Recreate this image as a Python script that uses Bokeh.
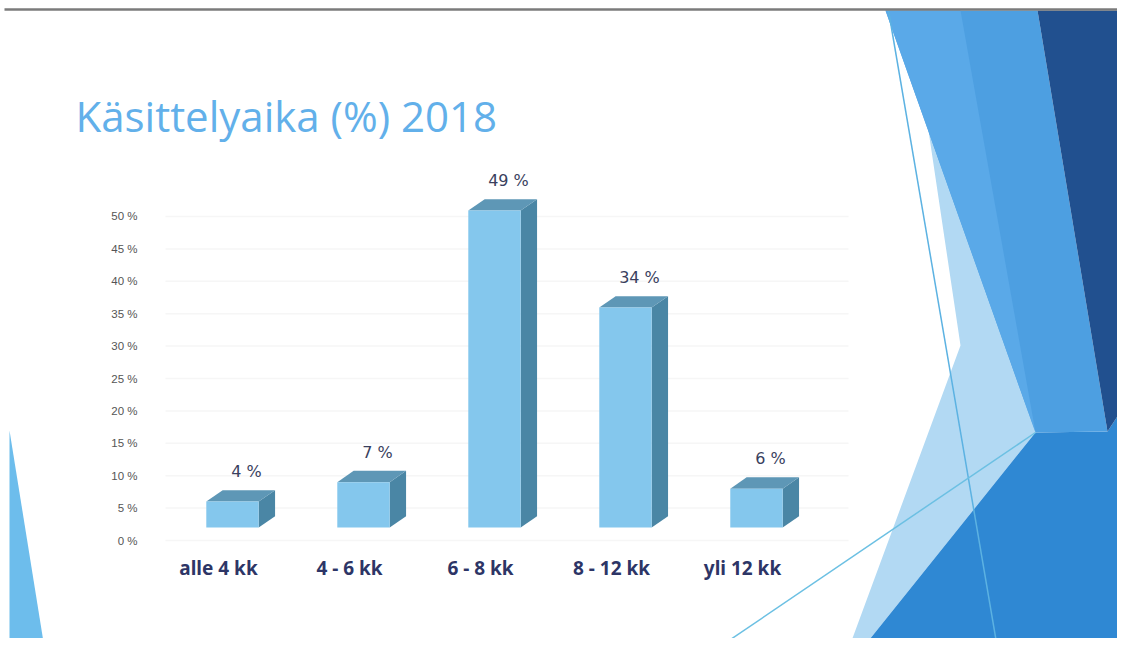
import numpy as np
from bokeh.plotting import figure
from bokeh.models import Range1d, ColumnDataSource
from bokeh.core.properties import value
from bokeh.embed import file_html
from bokeh.resources import INLINE

# ---------------- data ----------------
categories = ["alle 4 kk", "4 - 6 kk", "6 - 8 kk", "8 - 12 kk", "yli 12 kk"]
values = [4, 7, 49, 34, 6]
value_labels = ["4 %", "7 %", "49 %", "34 %", "6 %"]
y_ticks = [0, 5, 10, 15, 20, 25, 30, 35, 40, 45, 50]
y_tick_labels = ["0 %", "5 %", "10 %", "15 %", "20 %", "25 %", "30 %", "35 %", "40 %", "45 %", "50 %"]
title_text = "Käsittelyaika (%) 2018"

# ---------------- styling / geometry ----------------
W, H = 1117, 638
BAR_W = 0.40          # bar width in category units
DX, DY = 0.125, 1.75  # 3D depth offset (x units, % units)
FRONT, SIDE, TOP = "#84c7ed", "#4a86a5", "#5e97b6"

p = figure(width=W, height=H, output_backend="svg", toolbar_location=None,
           x_axis_location=None, y_axis_location=None,
           x_range=Range1d(-1.771, 6.756), y_range=Range1d(-17.16, 81.45),
           min_border=0, min_border_left=0, min_border_right=0,
           min_border_top=0, min_border_bottom=0,
           background_fill_color="white", border_fill_color="white")
p.outline_line_color = None
p.grid.visible = False
# decoration (slide) coordinates and the chart's back-wall value scale
p.extra_x_ranges = {"px": Range1d(0, W)}
p.extra_y_ranges = {"py": Range1d(H, 0), "wall": Range1d(-15.12, 83.33)}

# ---------------- slide decoration ----------------
deco = [
    ([9, 9, 45], [430, 654, 654], "#6dbdec"),                                   # left small triangle
    ([925, 1035, 857, 846, 960], [110, 432, 654, 654, 345], "#b2d9f3"),         # light wedge
    ([1035, 1107, 1133, 1133, 857], [432, 431, 391, 654, 654], "#2f88d3"),      # lower blue
    ([885, 1037, 1107, 1035], [10, 10, 431, 432], "#4d9fe1"),                   # upper band
    ([885, 960, 1035], [10, 10, 432], "#5aa9e8"),                               # lighter strip
    ([1037, 1133, 1133, 1107], [10, 10, 391, 431], "#21508f"),                  # navy
]
for xs, ys, c in deco:
    p.patch(xs, ys, fill_color=c, line_color=None, x_range_name="px", y_range_name="py")

# thin accent lines
p.line([888, 998], [10, 654], line_color="#5cb2e2", line_width=1.5, x_range_name="px", y_range_name="py")
p.line([705, 1035], [656, 432], line_color="#6cc0e3", line_width=1.5, x_range_name="px", y_range_name="py")
# top gray rule
p.line([4, 1133], [9, 9], line_color="#7b7b7b", line_width=2.5, x_range_name="px", y_range_name="py")

# title
p.text(x=[75], y=[115], text=[title_text], x_range_name="px", y_range_name="py",
       text_font=value("Open Sans"), text_font_size="42px", text_color="#62b0ea",
       text_align="left", text_baseline="alphabetic")

# ---------------- back wall: gridlines + tick labels ----------------
p.segment(x0=165, x1=848, y0=y_ticks, y1=y_ticks, line_color="#f6f6f6", line_width=1.5,
          x_range_name="px", y_range_name="wall")
p.text(x=[137] * len(y_ticks), y=y_ticks, text=y_tick_labels,
       x_range_name="px", y_range_name="wall",
       text_font=value("Liberation Sans"), text_font_size="11.5px", text_color="#555555",
       text_align="right", text_baseline="middle")

# ---------------- 3D bars ----------------
idx = np.arange(len(values), dtype=float)
v = np.array(values, dtype=float)
left, right = idx - BAR_W / 2, idx + BAR_W / 2

front_xs = [[l, r, r, l] for l, r in zip(left, right)]
front_ys = [[0, 0, h, h] for h in v]
side_xs = [[r, r + DX, r + DX, r] for r in right]
side_ys = [[0, DY, h + DY, h] for h in v]
top_xs = [[l, r, r + DX, l + DX] for l, r in zip(left, right)]
top_ys = [[h, h, h + DY, h + DY] for h in v]

p.patches(side_xs, side_ys, fill_color=SIDE, line_color=None)
p.patches(top_xs, top_ys, fill_color=TOP, line_color=None)
p.patches(front_xs, front_ys, fill_color=FRONT, line_color=None)

src = ColumnDataSource(dict(x=idx, y=v, cat=categories, lab=value_labels))
p.text(x="x", y="y", text="lab", source=src, x_offset=14, y_offset=-30,
       text_font=value("DejaVu Sans"), text_font_size="16px", text_color="#3a3f5e",
       text_align="center", text_baseline="middle")
p.text(x="x", y=0, text="cat", source=src, x_offset=-14, y_offset=41,
       text_font=value("Noto Sans"), text_font_size="19px", text_font_style="bold",
       text_color="#2d3566", text_align="center", text_baseline="middle")

open("out.html", "w").write(file_html(p, INLINE))
